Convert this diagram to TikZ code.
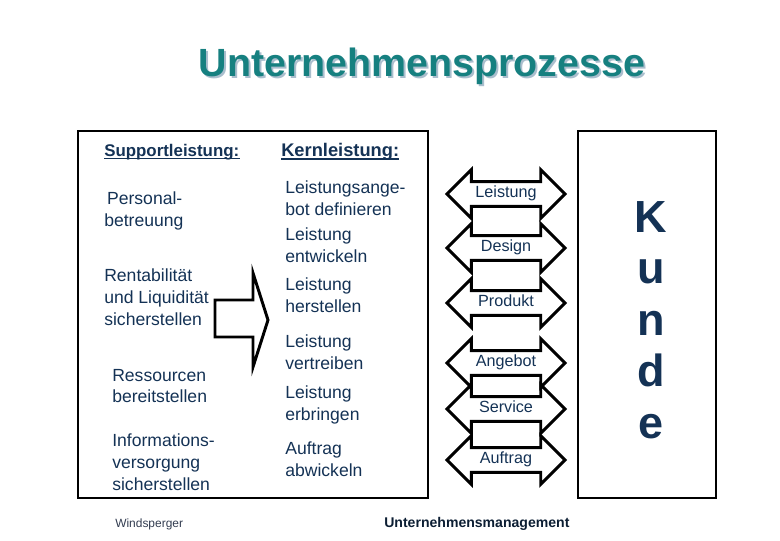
\documentclass[tikz,border=0pt]{standalone}
\usepackage{fontspec}
\setmainfont{Liberation Sans}
\usepackage{xcolor}
\usetikzlibrary{shapes.arrows}

\definecolor{navy}{RGB}{20,50,85}
\definecolor{teal2}{RGB}{22,128,128}
\definecolor{shade}{RGB}{170,190,205}

\tikzset{
  txt/.style={anchor=west, inner sep=0pt, align=left, text=navy,
    font=\fontsize{12.5}{15.6}\selectfont},
  head/.style={txt, font=\fontsize{12}{15}\selectfont\bfseries},
  uline/.style={draw=navy, line width=0.9pt},
  flow/.style={double arrow, draw, line width=2.1pt,
    double arrow head extend=8.5pt, minimum height=84pt,
    text height=8pt, text depth=2.5pt, inner ysep=2.5pt, inner xsep=2pt,
    text=navy, font=\fontsize{11.5}{13}\selectfont},
  kunde/.style={anchor=base, inner sep=0pt, text=navy,
    font=\fontsize{32}{36}\selectfont\bfseries},
}

\begin{document}
\begin{tikzpicture}[x=0.025cm, y=-0.025cm]
  \useasboundingbox (0,0) rectangle (780,540);

  % title with its shadow
  \node[text=shade, font=\fontsize{28}{32}\selectfont\bfseries] (titleshade) at (424,68) {Unternehmensprozesse};
  \node[text=teal2, font=\fontsize{28}{32}\selectfont\bfseries] (title) at (422,66) {Unternehmensprozesse};

  % frames
  \draw[line width=2.1pt] (78,131) rectangle (428,498);
  \draw[line width=2.1pt] (578,131) rectangle (716,498);

  % support column
  \node[head] (sup) at (104,152) {Supportleistung:};
  \draw[uline] ([yshift=-1.6pt]sup.base west) -- ([yshift=-1.6pt]sup.base east);
  \node[txt] (pers) at (104,211) {\hspace{2pt}Personal-\\betreuung};
  \node[txt] (rent) at (104,297) {Rentabilität\\und Liquidität\\sicherstellen};
  \node[txt] (ress) at (112,386) {Ressourcen\\bereitstellen};
  \node[txt] (info) at (112,462) {Informations-\\versorgung\\sicherstellen};

  % core column
  \node[head, font=\fontsize{13}{15}\selectfont\bfseries] (kern) at (281,152) {Kernleistung:};
  \draw[uline] ([yshift=-1.6pt]kern.base west) -- ([yshift=-1.6pt]kern.base east);
  \node[txt] (def) at (285,198) {Leistungsange-\\bot definieren};
  \node[txt] (entw) at (285,245) {Leistung\\entwickeln};
  \node[txt] (herst) at (285,295) {Leistung\\herstellen};
  \node[txt] (vertr) at (285,352) {Leistung\\vertreiben};
  \node[txt] (erbr) at (285,405) {Leistung\\erbringen};
  \node[txt] (abw) at (285,459) {Auftrag\\abwickeln};

  % hollow block arrow
  \draw[line width=2.1pt, line join=miter]
    (215,300) -- (253,300) -- (253,273) -- (268,320) -- (253,367) -- (253,337) -- (215,337) -- cycle;

  % exchange with the customer
  \foreach \lab/\yy [count=\i] in {Leistung/194, Design/248, Produkt/303, Angebot/363, Service/409, Auftrag/460}
    \node[flow] (f\i) at (506,\yy) {\lab};

  \foreach \l [count=\i] in {K,u,n,d,e}
    \node[kunde] (k\i) at (651,{232+51.5*(\i-1)}) {\l};

  % footer
  \node[txt, text={rgb,255:red,50;green,60;blue,80}, font=\fontsize{8.5}{10}\selectfont] (auth) at (115,524) {Windsperger};
  \node[txt, text=navy!60!black, font=\fontsize{10}{12}\selectfont\bfseries] (mgmt) at (384,524) {Unternehmensmanagement};
\end{tikzpicture}
\end{document}
